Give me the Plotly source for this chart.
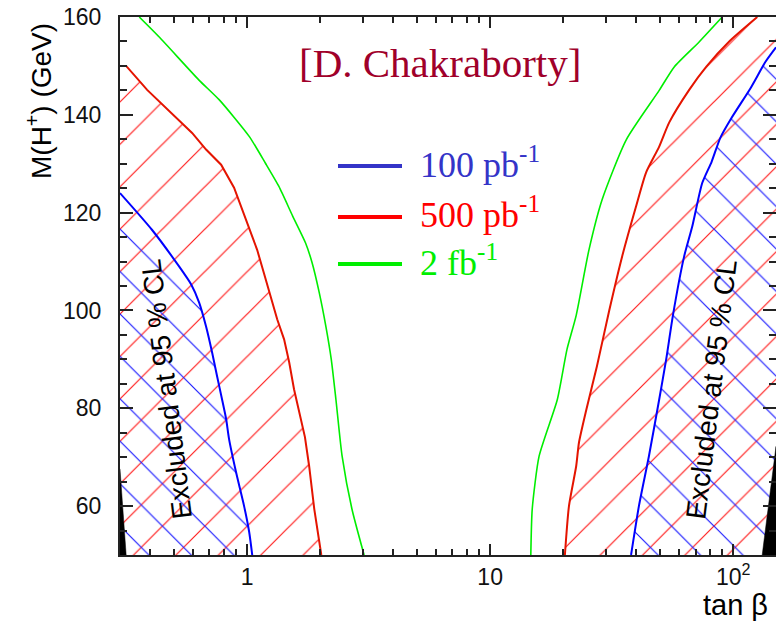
import math
import plotly.graph_objects as go

# ---- data ----
x_range = [0.3, 150]
y_range = [50, 160]

blue_left_x = [0.30, 0.406, 0.525, 0.589, 0.635, 0.678, 0.718, 0.753, 0.789, 0.82, 0.843, 0.901, 0.972, 1.02, 1.05]
blue_left_y = [124, 116.5, 109, 105.3, 101.6, 96.7, 91.4, 86.5, 81.8, 77.8, 73.7, 66.9, 60, 54.7, 50]

red_left_x = [0.30, 0.318, 0.388, 0.51, 0.594, 0.678, 0.782, 0.884, 0.945, 1.02, 1.10, 1.17, 1.25, 1.33, 1.42, 1.49, 1.56, 1.64, 1.73, 1.80, 1.89, 2.02]
red_left_y = [150, 150, 145.1, 139.4, 136.3, 132.9, 129.8, 125.1, 121.2, 116.9, 112.4, 107.8, 102.9, 98.2, 94.1, 89.4, 83.9, 79.0, 74.1, 68.2, 59.4, 50]

green_left_x = [0.36, 0.435, 0.634, 0.767, 1.02, 1.19, 1.35, 1.54, 1.74, 1.85, 1.98, 2.11, 2.22, 2.32, 2.46, 2.7, 3.03]
green_left_y = [160, 155.9, 147.1, 143.1, 135.6, 130.1, 125.4, 119.3, 113.8, 109.8, 103.7, 96.7, 90, 81.8, 70.2, 59.4, 50]

green_right_x = [14.7, 14.9, 15.9, 18.9, 20.7, 22.6, 25.5, 28.9, 36.3, 49.6, 57.2, 72.4, 90.1]
green_right_y = [50, 59.4, 70.2, 81.8, 92, 99, 112.4, 122.7, 134.9, 145, 149.8, 154.9, 160]

red_right_x = [20.3, 21.1, 22.6, 23.2, 24.9, 27.5, 30.9, 34.9, 39.8, 43.8, 49.6, 54.5, 65.9, 77.4, 96.3, 125.6]
red_right_y = [50, 60, 68.2, 73, 79.8, 88.6, 100, 111, 121.2, 128.2, 133.5, 138.4, 145.1, 149.8, 155, 160]

blue_right_x = [38, 41, 45, 49.6, 53, 56.5, 62.8, 67.8, 74.5, 81.5, 88.5, 98.5, 118, 136, 150]
blue_right_y = [50, 60.2, 70.2, 81.8, 90, 99, 111, 117.1, 126, 130.4, 135.3, 139.4, 145.5, 150.9, 153.8]

black_left_x = [0.30, 0.318, 0.30]
black_left_y = [67.6, 50, 50]
black_right_x = [131.6, 150, 150]
black_right_y = [50, 72.2, 50]

y_tickvals = [60, 80, 100, 120, 140, 160]
x_tickvals = [1, 10, 100]
x_ticktext = ["1", "10", "10<sup>2</sup>"]
x_minor = [0.3, 0.4, 0.5, 0.6, 0.7, 0.8, 0.9, 2, 3, 4, 5, 6, 7, 8, 9, 20, 30, 40, 50, 60, 70, 80, 90]

legend_labels = ["100 pb<sup>-1</sup>", "500 pb<sup>-1</sup>", "2 fb<sup>-1</sup>"]
legend_colors = ["#3434c8", "#ff0000", "#00ee00"]
line_colors = ["#0000ff", "#e41400", "#00ee00"]

W, H = 776, 621
ML, MR, MT, MB = 120, 0, 17, 66
PW, PH = W - ML - MR, H - MT - MB


def px(xp):
    return (xp - ML) / PW


def py(yp):
    return (H - MB - yp) / PH


fig = go.Figure()

transparent = "rgba(0,0,0,0)"


def hatch(xs, ys, shape, color):
    fig.add_trace(go.Scatter(
        x=xs, y=ys, mode="lines", fill="toself", line=dict(width=0, color=transparent),
        fillcolor=transparent,
        fillpattern=dict(shape=shape, size=30, solidity=0.04, fgcolor=color,
                         bgcolor=transparent, fillmode="replace"),
        hoverinfo="skip", showlegend=False))


# red hatched regions (500 pb^-1)
hatch(red_left_x + [0.30], red_left_y + [50], "/", "#ff1c1c")
hatch(red_right_x + [150, 150], red_right_y + [160, 50], "/", "#ff1c1c")
# blue cross-hatched regions (100 pb^-1)
hatch(blue_left_x + [0.30], blue_left_y + [50], "\\", "#1c1cff")
hatch(blue_right_x + [150], blue_right_y + [50], "\\", "#1c1cff")

# black excluded wedges
for bx, by in [(black_left_x, black_left_y), (black_right_x, black_right_y)]:
    fig.add_trace(go.Scatter(x=bx, y=by, mode="lines", fill="toself", fillcolor="black",
                             line=dict(width=0.5, color="black"), hoverinfo="skip", showlegend=False))

# contour lines
for xs, ys, c, w, shp in [
    (blue_left_x, blue_left_y, line_colors[0], 2, "spline"),
    (blue_right_x, blue_right_y, line_colors[0], 2, "spline"),
    (red_left_x, red_left_y, line_colors[1], 2, "linear"),
    (red_right_x, red_right_y, line_colors[1], 2, "spline"),
    (green_left_x, green_left_y, line_colors[2], 1.6, "spline"),
    (green_right_x, green_right_y, line_colors[2], 1.6, "spline"),
]:
    fig.add_trace(go.Scatter(x=xs, y=ys, mode="lines",
                             line=dict(color=c, width=w, shape=shp, smoothing=0.6),
                             hoverinfo="skip", showlegend=False))

annotations = []
shapes = []

# author tag
annotations.append(dict(xref="paper", yref="paper", x=px(440), y=py(63), text="[D. Chakraborty]",
                        showarrow=False, xanchor="center", yanchor="middle",
                        font=dict(family="Liberation Serif", size=41, color="#a0002a")))

# manual legend
leg_y = [166, 217, 264]
for lab, tc, lc, yy in zip(legend_labels, legend_colors, legend_colors, leg_y):
    shapes.append(dict(type="line", xref="paper", yref="paper", x0=px(338), x1=px(402),
                       y0=py(yy), y1=py(yy), line=dict(color=lc, width=4)))
    annotations.append(dict(xref="paper", yref="paper", x=px(418), y=py(yy - 4), text=lab,
                            showarrow=False, xanchor="left", yanchor="middle",
                            font=dict(family="Liberation Serif", size=36, color=tc)))

# excluded labels
annotations.append(dict(xref="paper", yref="paper", x=px(166), y=py(389), text="Excluded at 95 % CL",
                        showarrow=False, textangle=-97, xanchor="center", yanchor="middle",
                        font=dict(family="Liberation Sans", size=28, color="black")))
annotations.append(dict(xref="paper", yref="paper", x=px(711), y=py(389), text="Excluded at 95 % CL",
                        showarrow=False, textangle=-83, xanchor="center", yanchor="middle",
                        font=dict(family="Liberation Sans", size=28, color="black")))

# axis titles
annotations.append(dict(xref="paper", yref="paper", x=px(39), y=py(101), text="M(H<sup>+</sup>) (GeV)",
                        showarrow=False, textangle=-90, xanchor="center", yanchor="middle",
                        font=dict(family="Liberation Sans", size=28, color="black")))
annotations.append(dict(xref="paper", yref="paper", x=px(701), y=py(605), text="tan β",
                        showarrow=False, xanchor="left", yanchor="middle",
                        font=dict(family="Liberation Sans", size=29, color="black")))

axis_common = dict(showgrid=False, zeroline=False, showline=True, linecolor="#222222", linewidth=2,
                   mirror="ticks", ticks="inside", tickcolor="#222222", tickwidth=1.5,
                   tickfont=dict(family="Liberation Sans", size=23, color="#111111"),
                   automargin=False)

fig.update_xaxes(type="log", range=[math.log10(x_range[0]), math.log10(x_range[1])],
                 tickvals=x_tickvals, ticktext=x_ticktext, ticklen=11, ticklabelstandoff=0,
                 minor=dict(tickvals=x_minor, ticks="inside", ticklen=6, tickcolor="#222222", tickwidth=1.5),
                 **axis_common)
fig.update_yaxes(range=y_range, tickvals=y_tickvals, ticklen=13, ticklabelstandoff=12,
                 minor=dict(dtick=5, ticks="inside", ticklen=7, tickcolor="#222222", tickwidth=1.5),
                 **axis_common)

fig.update_layout(width=W, height=H, margin=dict(l=ML, r=MR, t=MT, b=MB, pad=0),
                  paper_bgcolor="white", plot_bgcolor="white", showlegend=False,
                  annotations=annotations, shapes=shapes)

fig.write_html("out.html")
